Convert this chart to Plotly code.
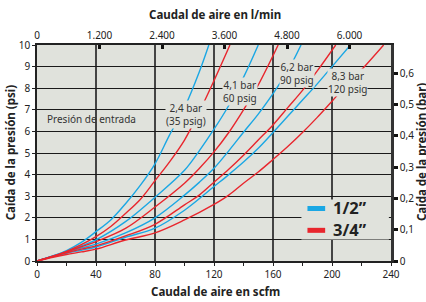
import plotly.graph_objects as go

# ---- data ----
# 1/2" (blue) curves, x = scfm, y = psi drop
b24_x = [0, 10, 20, 30, 40, 50, 60, 70, 80, 90, 100, 110, 116.5]
b24_y = [0, 0.22, 0.48, 0.86, 1.36, 1.9, 2.65, 3.5, 4.5, 5.85, 7.1, 8.75, 10]
b41_x = [0, 10, 20, 30, 40, 60, 80, 100, 110, 120, 130, 140, 150]
b41_y = [0, 0.21, 0.44, 0.7, 0.98, 1.82, 2.95, 4.2, 5.1, 6.1, 7.2, 8.5, 10]
b62_x = [0, 10, 20, 30, 40, 60, 80, 100, 110, 120, 130, 140, 150, 160, 170, 179]
b62_y = [0, 0.2, 0.41, 0.6, 0.78, 1.3, 2.0, 3.05, 3.64, 4.29, 5.1, 5.96, 6.8, 7.75, 8.8, 10]
b83_x = [0, 10, 20, 30, 40, 60, 80, 100, 120, 130, 140, 150, 160, 170, 180, 190, 200, 212.5]
b83_y = [0, 0.19, 0.36, 0.5, 0.65, 1.1, 1.52, 2.35, 3.45, 4.0, 4.58, 5.22, 5.95, 6.7, 7.45, 8.2, 9.0, 10]
# 3/4" (red) curves
r24_x = [0, 10, 20, 30, 40, 50, 60, 70, 80, 90, 100, 110, 120, 130.8]
r24_y = [0, 0.21, 0.45, 0.76, 1.13, 1.6, 2.2, 2.85, 3.72, 4.6, 5.6, 6.9, 8.35, 10]
r41_x = [0, 10, 20, 30, 40, 60, 80, 100, 110, 120, 130, 140, 150, 163.5]
r41_y = [0, 0.2, 0.42, 0.66, 0.9, 1.51, 2.5, 3.6, 4.28, 5.05, 5.95, 7.0, 8.15, 10]
r62_x = [0, 10, 20, 30, 40, 60, 80, 100, 110, 120, 130, 140, 150, 160, 170, 180, 190, 202.5]
r62_y = [0, 0.19, 0.38, 0.55, 0.7, 1.16, 1.7, 2.6, 3.05, 3.65, 4.25, 4.9, 5.6, 6.3, 7.1, 7.9, 8.8, 10]
r83_x = [0, 10, 20, 30, 40, 60, 80, 100, 120, 130, 140, 150, 160, 170, 180, 190, 200, 210, 220, 235]
r83_y = [0, 0.16, 0.3, 0.42, 0.55, 0.97, 1.3, 1.9, 2.62, 3.05, 3.6, 4.12, 4.7, 5.3, 5.95, 6.65, 7.4, 8.15, 8.85, 10]

x_ticks = [0, 40, 80, 120, 160, 200, 240]
y_ticks = list(range(0, 11))
lmin_ticks = [0, 1200, 2400, 3600, 4800, 6000]
lmin_labels = ["0", "1.200", "2.400", "3.600", "4.800", "6.000"]
bar_ticks = [0, 0.1, 0.2, 0.3, 0.4, 0.5, 0.6]
bar_labels = ["0", "0,1", "0,2", "0,3", "0,4", "0,5", "0,6"]
legend_names = ["1/2\u201d", "3/4\u201d"]

SCFM_TO_LMIN = 28.3168
PSI_PER_BAR = 14.5038

BLUE = "#1aa7e4"
RED = "#e8262d"
BG = "#e0e2dc"
FONT = "Noto Sans"

fig = go.Figure()
for xs, ys in [(b24_x, b24_y), (b41_x, b41_y), (b62_x, b62_y), (b83_x, b83_y)]:
    fig.add_trace(go.Scatter(x=xs, y=ys, mode="lines", line=dict(color=BLUE, width=1.4, shape="spline"),
                             showlegend=False, hoverinfo="skip"))
for xs, ys in [(r24_x, r24_y), (r41_x, r41_y), (r62_x, r62_y), (r83_x, r83_y)]:
    fig.add_trace(go.Scatter(x=xs, y=ys, mode="lines", line=dict(color=RED, width=1.4, shape="spline"),
                             showlegend=False, hoverinfo="skip"))

tickfont = dict(family=FONT, size=10, color="#222")

fig.update_layout(
    width=426, height=302,
    margin=dict(l=37, r=29, t=45, b=41),
    paper_bgcolor="white", plot_bgcolor=BG,
    showlegend=False,
    xaxis=dict(range=[0, 240], tickvals=x_ticks, ticks="outside", ticklen=3, tickcolor="#222",
               showgrid=True, gridcolor="#444", gridwidth=1.5, zeroline=False,
               showline=True, linecolor="#222", linewidth=1.5, tickfont=tickfont,
               minor=dict(dtick=20, ticks="outside", ticklen=3, tickcolor="#222", showgrid=False)),
    yaxis=dict(range=[0, 10], tickvals=y_ticks, ticks="outside", ticklen=3, tickcolor="#222",
               showgrid=True, gridcolor="#1a1a1a", gridwidth=1.2, zeroline=False,
               showline=True, linecolor="#222", linewidth=1.5, tickfont=tickfont),
    xaxis2=dict(range=[0, 240 * SCFM_TO_LMIN], overlaying="x", side="top", anchor="y",
                tickvals=lmin_ticks, ticktext=lmin_labels, ticks="inside", ticklen=4, tickwidth=2.5,
                tickcolor="#111", showgrid=False, zeroline=False, showline=True, linecolor="#222",
                linewidth=1.5, tickfont=tickfont),
    yaxis2=dict(range=[0, 10 / PSI_PER_BAR], overlaying="y", side="right", anchor="x",
                tickvals=bar_ticks, ticktext=bar_labels, ticks="outside", ticklen=4, tickwidth=2.5,
                tickcolor="#111", showgrid=False, zeroline=False, showline=True, linecolor="#333",
                linewidth=2.5, tickfont=tickfont),
)
# invisible trace to bind secondary axes (no marks drawn)
fig.add_trace(go.Scatter(x=[None], y=[None], xaxis="x2", yaxis="y2", showlegend=False, hoverinfo="skip"))

ann = []
title_font = dict(family=FONT, size=11.5, color="#222")
ann.append(dict(text="<b>Caudal de aire en l/min</b>", xref="paper", yref="paper", x=0.503, y=1.1435,
                showarrow=False, font=title_font, xanchor="center", yanchor="middle"))
ann.append(dict(text="<b>Caudal de aire en scfm</b>", xref="paper", yref="paper", x=0.503, y=-0.1435,
                showarrow=False, font=title_font, xanchor="center", yanchor="middle"))
ann.append(dict(text="<b>Caída de la presión (psi)</b>", xref="paper", yref="paper", x=-0.075, y=0.505,
                showarrow=False, font=title_font, textangle=-90, xanchor="center", yanchor="middle"))
ann.append(dict(text="<b>Caída de la presión (bar)</b>", xref="paper", yref="paper", x=1.088, y=0.505,
                showarrow=False, font=title_font, textangle=-90, xanchor="center", yanchor="middle"))

lab_font = dict(family=FONT, size=10, color="#333")
labels = [
    ("2,4 bar<br>(35 psig)", 101.3, 6.80),
    ("4,1 bar<br>60 psig", 137.3, 7.83),
    ("6,2 bar<br>90 psig", 176.4, 8.67),
    ("8,3 bar<br>120 psig", 210.3, 8.25),
]
for t, x, y in labels:
    ann.append(dict(text=t, x=x, y=y, xref="x", yref="y", showarrow=False, font=lab_font,
                    bgcolor=BG, borderpad=0, xanchor="center", yanchor="middle", align="center"))
ann.append(dict(text="Presión de entrada", x=36.7, y=6.57, xref="x", yref="y", showarrow=False,
                font=lab_font, xanchor="center", yanchor="middle"))

shapes = [dict(type="rect", xref="paper", yref="paper", x0=0.747, x1=0.994, y0=0.10, y1=0.285,
               fillcolor=BG, line=dict(width=0), layer="above")]
leg_font = dict(family=FONT, size=16.5, color="#222")
for name, col, py in [(legend_names[0], BLUE, 0.243), (legend_names[1], RED, 0.142)]:
    shapes.append(dict(type="line", xref="paper", yref="paper", x0=0.764, x1=0.814, y0=py, y1=py,
                       line=dict(color=col, width=5), layer="above"))
    ann.append(dict(text="<b>" + name + "</b>", xref="paper", yref="paper", x=0.83, y=py + 0.005,
                    showarrow=False, font=leg_font, xanchor="left", yanchor="middle"))

fig.update_layout(annotations=ann, shapes=shapes)
fig.write_html("out.html", config={"displayModeBar": False},
               post_script="document.body.style.margin='0';document.body.style.overflow='hidden';")
